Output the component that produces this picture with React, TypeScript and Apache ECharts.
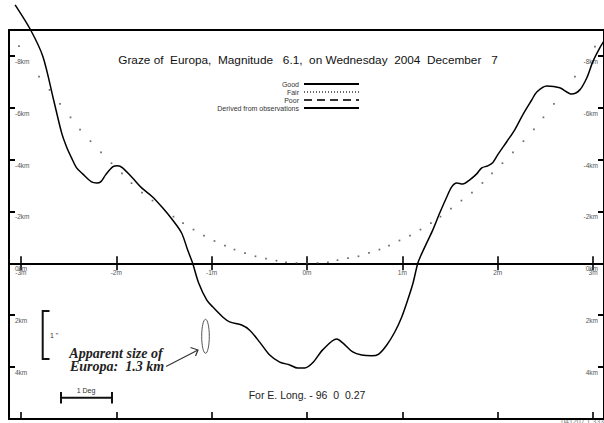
import React, { useEffect, useRef } from "react";
import * as echarts from "echarts";

// ---- Data (minutes of time along track, km from predicted limb) ----
const profileMinutes = [
  -3.061, -2.898, -2.769, -2.657, -2.573, -2.521, -2.468, -2.416, -2.353, -2.259,
  -2.206, -2.164, -2.112, -2.038, -1.986, -1.934, -1.829, -1.734, -1.619, -1.514,
  -1.409, -1.315, -1.252, -1.199, -1.136, -1.052, -0.989, -0.884, -0.811, -0.685,
  -0.601, -0.496, -0.391, -0.286, -0.181, -0.098, -0.024, 0.06, 0.165, 0.312,
  0.375, 0.48, 0.574, 0.679, 0.753, 0.837, 0.921, 0.994, 1.057, 1.11,
  1.162, 1.193, 1.256, 1.32, 1.393, 1.466, 1.518, 1.57, 1.633, 1.707,
  1.78, 1.833, 1.896, 1.948, 2.001, 2.095, 2.179, 2.263, 2.357, 2.41,
  2.515, 2.651, 2.777, 2.861, 2.934, 2.997, 3.071, 3.134,
];
const profileKm = [
  -9.97, -9.0, -7.97, -6.3, -5.03, -4.49, -4.06, -3.68, -3.45, -3.14,
  -3.1, -3.14, -3.41, -3.72, -3.76, -3.68, -3.29, -2.91, -2.56, -2.14,
  -1.67, -1.17, -0.52, 0.0, 0.76, 1.41, 1.68, 2.07, 2.26, 2.38,
  2.58, 3.04, 3.54, 3.81, 3.92, 4.04, 4.04, 3.84, 3.34, 2.92,
  3.07, 3.42, 3.54, 3.57, 3.5, 3.15, 2.65, 2.07, 1.41, 0.79,
  0.0, -0.29, -0.79, -1.29, -1.95, -2.56, -2.95, -3.1, -3.06, -3.22,
  -3.45, -3.68, -3.76, -3.88, -4.19, -4.69, -5.15, -5.73, -6.3, -6.61,
  -6.84, -6.77, -6.53, -6.69, -7.15, -7.77, -8.31, -8.69,
];
const limbMinutes = [
  -3.02, -2.81, -2.7, -2.59, -2.48, -2.38, -2.27, -2.16, -2.05, -1.94,
  -1.84, -1.73, -1.62, -1.4, -1.3, -1.19, -1.08, -0.97, -0.86, -0.76,
  -0.65, -0.54, -0.43, -0.32, -0.22, -0.11, 0.0, 0.11, 0.22, 0.32,
  0.43, 0.54, 0.65, 0.76, 0.86, 0.97, 1.08, 1.19, 1.3, 1.4,
  1.51, 1.62, 1.73, 1.84, 1.94, 2.05, 2.16, 2.27, 2.38, 2.48,
  2.59, 2.81, 3.02,
];
const limbKm = [
  -8.38, -7.2, -6.69, -6.15, -5.63, -5.16, -4.71, -4.28, -3.86, -3.47,
  -3.09, -2.73, -2.42, -1.8, -1.55, -1.3, -1.07, -0.86, -0.68, -0.53,
  -0.39, -0.27, -0.18, -0.1, -0.04, -0.01, 0.0, -0.01, -0.04, -0.12,
  -0.2, -0.27, -0.4, -0.53, -0.68, -0.88, -1.07, -1.3, -1.55, -1.8,
  -2.11, -2.42, -2.73, -3.1, -3.47, -3.86, -4.28, -4.71, -5.17, -5.63,
  -6.15, -7.2, -8.36,
];
const minuteTicks = [-3, -2, -1, 0, 1, 2, 3];
const minuteTickLabels = ["-3m", "-2m", "-1m", "0m", "1m", "2m", "3m"];
const upperKmTicks = [-8, -6, -4, -2, 0];
const upperKmLabels = ["-8km", "-6km", "-4km", "-2km", "0km"];
const lowerKmTicks = [2, 4];
const lowerKmLabels = ["2km", "4km"];
const legendNames = ["Good", "Fair", "Poor", "Derived from observations"];
const titleText = "Graze of  Europa,  Magnitude   6.1,  on Wednesday  2004  December   7";
const longitudeText = "For E. Long. - 96  0  0.27";
const sizeNoteLines = ["Apparent size of", "Europa:  1.3 km"];
const arcsecLabel = '1 "';
const degreeLabel = "1 Deg";
const footerText = "041207 1.333";

const X_MIN = -3.125;
const X_MAX = 3.115;

const SANS = "'Liberation Sans', Arial, sans-serif";
const SERIF = "'Liberation Serif', 'DejaVu Serif', serif";

export default function App() {
  const ref = useRef<HTMLDivElement>(null);

  useEffect(() => {
    if (!ref.current) return;
    const chart = echarts.init(ref.current, undefined, { renderer: "svg" });

    const axisLineStyle = { color: "#000", width: 2 };
    const tickStyle = { color: "#000", width: 1.6 };
    const labelStyle = { fontSize: 6.5, color: "#555", fontFamily: SANS };
    const minuteFmt = (v: number) => minuteTickLabels[minuteTicks.indexOf(Math.round(v))] ?? "";
    const upperFmt = (v: number) => upperKmLabels[upperKmTicks.indexOf(Math.round(v))] ?? "";
    const lowerFmt = (v: number) => lowerKmLabels[lowerKmTicks.indexOf(Math.round(v))] ?? "";

    const xBase = {
      type: "value",
      min: X_MIN,
      max: X_MAX,
      splitLine: { show: false },
      axisLine: { show: true, onZero: false, lineStyle: axisLineStyle },
    };
    const yBase = {
      type: "value",
      inverse: true,
      splitLine: { show: false },
      axisLine: { show: true, onZero: false, lineStyle: axisLineStyle },
    };
    const yTick = (vals: number[]) => ({
      show: true,
      inside: true,
      length: 6,
      lineStyle: { color: "#000", width: 2 },
      customValues: vals,
    });
    const yLabel = (vals: number[], fmt: (v: number) => string) => ({
      show: true,
      inside: true,
      margin: 6,
      verticalAlign: "top",
      padding: [2, 0, 0, 0],
      customValues: vals,
      formatter: fmt,
      ...labelStyle,
    });

    const option: any = {
      animation: false,
      backgroundColor: "#fff",
      grid: [
        { left: 9, top: 30, width: 596, height: 233.3 },
        { left: 9, top: 263.3, width: 596, height: 155.7 },
      ],
      xAxis: [
        { ...xBase, gridIndex: 0, position: "top", axisTick: { show: false }, axisLabel: { show: false } },
        {
          ...xBase,
          gridIndex: 0,
          position: "bottom",
          axisTick: { show: true, inside: true, length: 7, lineStyle: tickStyle, customValues: minuteTicks },
          axisLabel: { show: false },
        },
        {
          ...xBase,
          gridIndex: 1,
          position: "top",
          axisTick: { show: true, inside: true, length: 7, lineStyle: tickStyle, customValues: minuteTicks },
          axisLabel: {
            show: true,
            inside: true,
            margin: 6,
            customValues: minuteTicks,
            formatter: minuteFmt,
            ...labelStyle,
          },
        },
        {
          ...xBase,
          gridIndex: 1,
          position: "bottom",
          axisTick: { show: true, inside: true, length: 7, lineStyle: tickStyle, customValues: minuteTicks },
          axisLabel: { show: false },
        },
      ],
      yAxis: [
        { ...yBase, gridIndex: 0, min: -9, max: 0, position: "left", axisTick: yTick(upperKmTicks), axisLabel: yLabel(upperKmTicks, upperFmt) },
        { ...yBase, gridIndex: 0, min: -9, max: 0, position: "right", axisTick: yTick(upperKmTicks), axisLabel: yLabel(upperKmTicks, upperFmt) },
        { ...yBase, gridIndex: 1, min: 0, max: 6, position: "left", axisTick: yTick(lowerKmTicks), axisLabel: yLabel(lowerKmTicks, lowerFmt) },
        { ...yBase, gridIndex: 1, min: 0, max: 6, position: "right", axisTick: yTick(lowerKmTicks), axisLabel: yLabel(lowerKmTicks, lowerFmt) },
      ],
      legend: {
        data: legendNames,
        orient: "vertical",
        align: "right",
        right: 244,
        top: 80.5,
        padding: 0,
        itemWidth: 55,
        itemHeight: 7,
        itemGap: 1,
        selectedMode: false,
        itemStyle: { opacity: 0 },
        textStyle: { fontSize: 7, color: "#333", fontFamily: SANS },
      },
      series: [
        {
          name: "Good",
          type: "line",
          xAxisIndex: 1,
          yAxisIndex: 0,
          data: profileMinutes.map((m, i) => [m, profileKm[i]]),
          symbol: "none",
          smooth: 0.3,
          clip: false,
          lineStyle: { color: "#000", width: 1.5 },
          z: 4,
        },
        {
          name: "Fair",
          type: "line",
          xAxisIndex: 1,
          yAxisIndex: 0,
          data: [],
          symbol: "none",
          lineStyle: { color: "#666", width: 1, type: [1, 2] },
        },
        {
          name: "Poor",
          type: "line",
          xAxisIndex: 1,
          yAxisIndex: 0,
          data: [],
          symbol: "none",
          lineStyle: { color: "#333", width: 1, type: [8, 5] },
        },
        {
          name: "Derived from observations",
          type: "line",
          xAxisIndex: 1,
          yAxisIndex: 0,
          data: [],
          symbol: "none",
          lineStyle: { color: "#000", width: 3 },
        },
        {
          name: "Mean limb",
          type: "scatter",
          xAxisIndex: 1,
          yAxisIndex: 0,
          data: limbMinutes.map((m, i) => [m, limbKm[i]]),
          symbol: "rect",
          symbolSize: 1.7,
          itemStyle: { color: "#444" },
          silent: true,
          z: 3,
        },
      ],
      graphic: [
        {
          type: "text",
          x: 308,
          y: 60,
          style: { text: titleText, align: "center", verticalAlign: "middle", fontSize: 11.8, fontFamily: SANS, fill: "#111" },
        },
        {
          type: "text",
          x: 307,
          y: 395,
          style: { text: longitudeText, align: "center", verticalAlign: "middle", fontSize: 10.5, fontFamily: SANS, fill: "#222" },
        },
        { type: "line", shape: { x1: 61, y1: 397.7, x2: 112, y2: 397.7 }, style: { stroke: "#111", lineWidth: 2 } },
        { type: "line", shape: { x1: 61, y1: 392, x2: 61, y2: 403.5 }, style: { stroke: "#111", lineWidth: 2 } },
        { type: "line", shape: { x1: 112, y1: 392, x2: 112, y2: 403.5 }, style: { stroke: "#111", lineWidth: 2 } },
        {
          type: "text",
          x: 86,
          y: 390,
          style: { text: degreeLabel, align: "center", verticalAlign: "middle", fontSize: 7, fontFamily: SANS, fill: "#333" },
        },
        {
          type: "polyline",
          shape: { points: [[49.5, 311], [42.7, 311], [42.7, 359], [49.5, 359]] },
          style: { stroke: "#111", lineWidth: 2, fill: "none" },
        },
        {
          type: "text",
          x: 50,
          y: 335,
          style: { text: arcsecLabel, align: "left", verticalAlign: "middle", fontSize: 7, fontFamily: SANS, fill: "#333" },
        },
        {
          type: "text",
          x: 116,
          y: 353,
          style: { text: sizeNoteLines[0], align: "center", verticalAlign: "middle", fontSize: 14, fontWeight: "bold", fontStyle: "italic", fontFamily: SERIF, fill: "#222" },
        },
        {
          type: "text",
          x: 117,
          y: 366.5,
          style: { text: sizeNoteLines[1], align: "center", verticalAlign: "middle", fontSize: 14, fontWeight: "bold", fontStyle: "italic", fontFamily: SERIF, fill: "#222" },
        },
        { type: "line", shape: { x1: 166, y1: 366.5, x2: 197.5, y2: 350.2 }, style: { stroke: "#333", lineWidth: 1.2 } },
        {
          type: "polyline",
          shape: { points: [[190.5, 347.5], [198, 350], [195.5, 356]] },
          style: { stroke: "#333", lineWidth: 1.2, fill: "none" },
        },
        {
          type: "ellipse",
          shape: { cx: 205.5, cy: 336.3, rx: 3.8, ry: 17 },
          style: { fill: "none", stroke: "#555", lineWidth: 1 },
        },
        {
          type: "text",
          x: 604,
          y: 421,
          style: { text: footerText, align: "right", verticalAlign: "middle", fontSize: 7, fontFamily: SANS, fill: "#777" },
        },
      ],
    };

    chart.setOption(option);
    return () => chart.dispose();
  }, []);

  return (
    <div
      ref={ref}
      style={{ position: "fixed", left: 0, top: 0, width: 604, height: 423, background: "#fff" }}
    />
  );
}
